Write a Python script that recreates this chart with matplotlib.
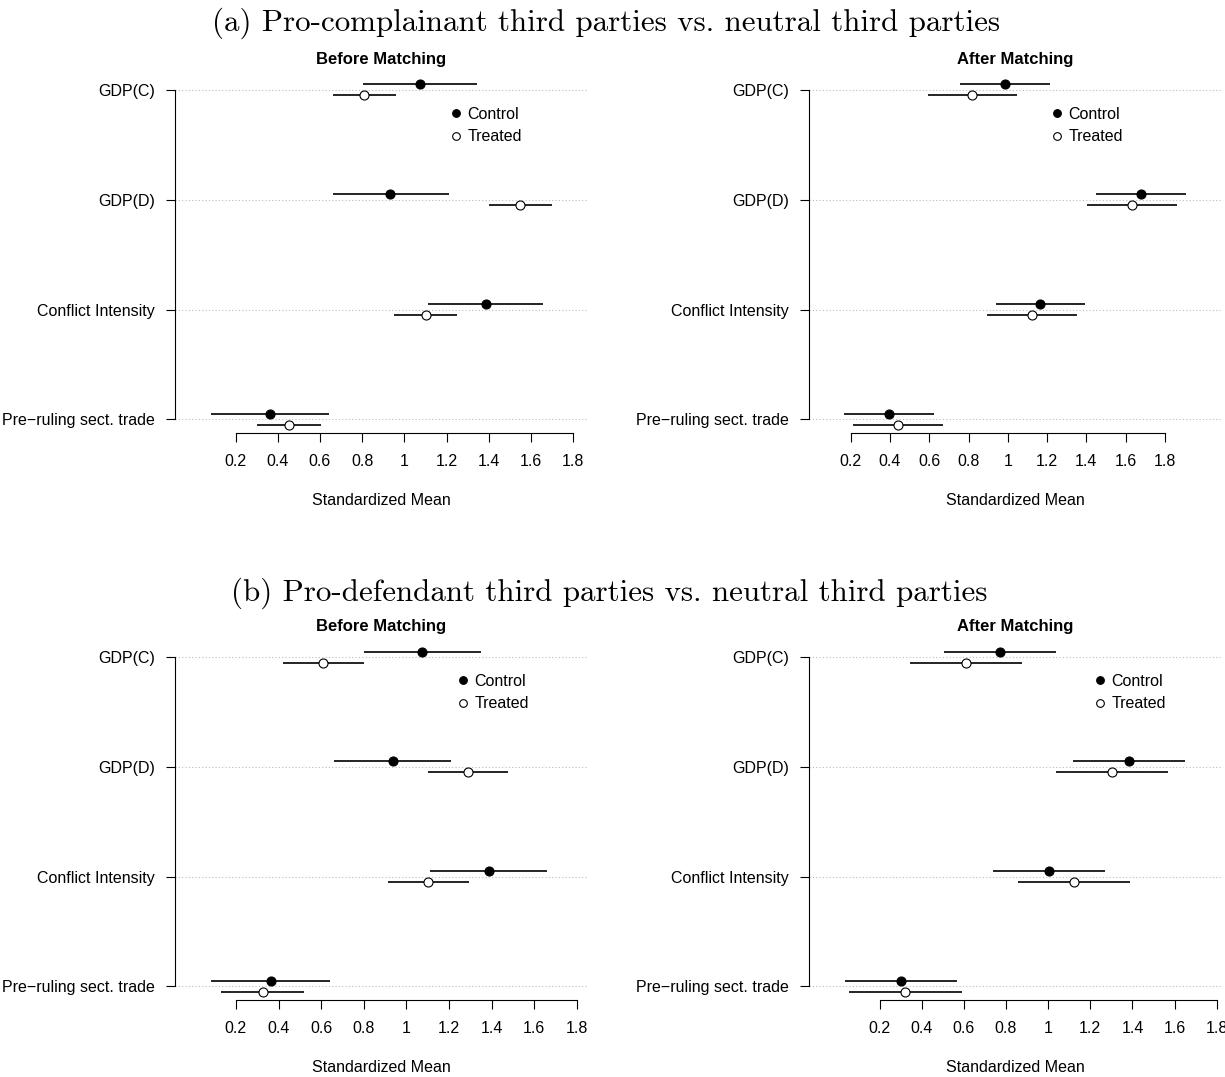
import numpy as np
import matplotlib.pyplot as plt

# covariates, top to bottom
categories = ['GDP(C)', 'GDP(D)', 'Conflict Intensity', 'Pre\u2212ruling sect. trade']
xticks = [0.2, 0.4, 0.6, 0.8, 1.0, 1.2, 1.4, 1.6, 1.8]
xtick_labels = ['0.2', '0.4', '0.6', '0.8', '1', '1.2', '1.4', '1.6', '1.8']

# (a) before matching
before_a_ctrl = [1.072, 0.933, 1.385, 0.361]
before_a_ctrl_lo = [0.802, 0.663, 1.113, 0.083]
before_a_ctrl_hi = [1.346, 1.209, 1.659, 0.643]
before_a_treat = [0.809, 1.550, 1.102, 0.452]
before_a_treat_lo = [0.663, 1.402, 0.952, 0.300]
before_a_treat_hi = [0.959, 1.698, 1.248, 0.604]

# (a) after matching
after_a_ctrl = [0.985, 1.677, 1.166, 0.394]
after_a_ctrl_lo = [0.757, 1.451, 0.939, 0.166]
after_a_ctrl_hi = [1.215, 1.907, 1.393, 0.622]
after_a_treat = [0.819, 1.631, 1.122, 0.440]
after_a_treat_lo = [0.593, 1.405, 0.894, 0.212]
after_a_treat_hi = [1.049, 1.861, 1.352, 0.670]

# (b) before matching
before_b_ctrl = [1.075, 0.937, 1.387, 0.365]
before_b_ctrl_lo = [0.800, 0.662, 1.113, 0.084]
before_b_ctrl_hi = [1.349, 1.211, 1.660, 0.644]
before_b_treat = [0.611, 1.291, 1.102, 0.327]
before_b_treat_lo = [0.423, 1.100, 0.912, 0.131]
before_b_treat_hi = [0.803, 1.479, 1.292, 0.519]

# (b) after matching
after_b_ctrl = [0.771, 1.383, 1.006, 0.302]
after_b_ctrl_lo = [0.506, 1.118, 0.739, 0.037]
after_b_ctrl_hi = [1.038, 1.650, 1.272, 0.569]
after_b_treat = [0.608, 1.303, 1.121, 0.322]
after_b_treat_lo = [0.343, 1.038, 0.856, 0.057]
after_b_treat_hi = [0.875, 1.570, 1.388, 0.590]

plt.rcParams['font.family'] = ['Liberation Sans', 'DejaVu Sans']
W, H = 1225, 1077
fig = plt.figure(figsize=(W / 100, H / 100), dpi=100)

def make_ax(x0, x1, y0, y1):
    # pixel box -> figure fraction
    return fig.add_axes([x0 / W, 1 - y1 / H, (x1 - x0) / W, (y1 - y0) / H])

def draw_panel(ax, title, ctrl, ctrl_lo, ctrl_hi, treat, treat_lo, treat_hi, xlim, leg_x):
    rows = np.arange(len(categories), 0, -1)
    off = 0.05
    for r in rows:
        ax.axhline(r, color='#bbbbbb', ls=(0, (1, 2)), lw=0.8, zorder=0)
    ax.hlines(rows + off, ctrl_lo, ctrl_hi, color='black', lw=1.2, zorder=2)
    ax.hlines(rows - off, treat_lo, treat_hi, color='black', lw=1.2, zorder=2)
    ax.plot(ctrl, rows + off, 'o', ms=6.5, mfc='black', mec='black', mew=0.8,
            ls='none', label='Control', zorder=3)
    ax.plot(treat, rows - off, 'o', ms=6.5, mfc='white', mec='black', mew=0.8,
            ls='none', label='Treated', zorder=3)
    ax.set_xlim(*xlim)
    ax.set_ylim(0.88, 4.12)
    ax.set_yticks(rows)
    ax.set_yticklabels(categories, fontsize=11.5)
    ax.set_xticks(xticks)
    ax.set_xticklabels(xtick_labels, fontsize=11.5)
    for s in ['top', 'right']:
        ax.spines[s].set_visible(False)
    ax.spines['left'].set_bounds(1, 4)
    ax.spines['bottom'].set_bounds(0.2, 1.8)
    ax.tick_params(axis='both', direction='out', length=6.5, width=0.8)
    ax.tick_params(axis='y', pad=8)
    ax.tick_params(axis='x', pad=9)
    ax.set_xlabel('Standardized Mean', fontsize=11.5)
    ax.xaxis.set_label_coords(0.5, -0.19)
    ax.xaxis.label.set_va('center')
    ax.text(0.5, 1.05, title, transform=ax.transAxes, ha='center', va='center',
            fontsize=12, fontweight='bold')
    ax.legend(loc='upper left', bbox_to_anchor=(leg_x, 0.916), frameon=False,
              fontsize=11.5, handlelength=0.8, handletextpad=0.3, borderpad=0,
              borderaxespad=0, labelspacing=0.47, markerscale=0.85)

ax1 = make_ax(175, 588, 76.8, 432.5)
draw_panel(ax1, 'Before Matching', before_a_ctrl, before_a_ctrl_lo, before_a_ctrl_hi,
           before_a_treat, before_a_treat_lo, before_a_treat_hi, (-0.087, 1.87), 0.666)
ax2 = make_ax(809, 1222, 76.8, 432.5)
draw_panel(ax2, 'After Matching', after_a_ctrl, after_a_ctrl_lo, after_a_ctrl_hi,
           after_a_treat, after_a_treat_lo, after_a_treat_hi, (-0.012, 2.09), 0.585)
ax3 = make_ax(175, 588, 644.1, 999.5)
draw_panel(ax3, 'Before Matching', before_b_ctrl, before_b_ctrl_lo, before_b_ctrl_hi,
           before_b_treat, before_b_treat_lo, before_b_treat_hi, (-0.086, 1.853), 0.682)
ax4 = make_ax(809, 1222, 644.1, 999.5)
draw_panel(ax4, 'After Matching', after_b_ctrl, after_b_ctrl_lo, after_b_ctrl_hi,
           after_b_treat, after_b_treat_lo, after_b_treat_hi, (-0.135, 1.825), 0.689)

fig.text(606 / W, 1 - 23 / H, '(a) Pro-complainant third parties vs. neutral third parties',
         ha='center', va='center', fontsize=22.3, family='cmr10')
fig.text(609 / W, 1 - 593 / H, '(b) Pro-defendant third parties vs. neutral third parties',
         ha='center', va='center', fontsize=22.3, family='cmr10')

fig.savefig('out.png', dpi=100)
